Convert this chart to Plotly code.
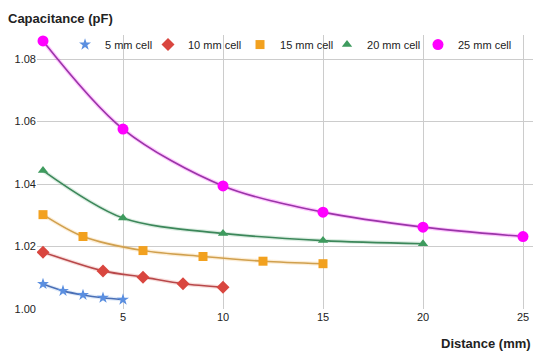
import plotly.graph_objects as go

names = ["5 mm cell", "10 mm cell", "15 mm cell", "20 mm cell", "25 mm cell"]
x5 = [1, 2, 3, 4, 5]
y5 = [1.0080, 1.0058, 1.0045, 1.0036, 1.0030]
x10 = [1, 4, 6, 8, 10]
y10 = [1.0182, 1.0122, 1.0102, 1.0081, 1.0070]
x15 = [1, 3, 6, 9, 12, 15]
y15 = [1.0302, 1.0232, 1.0187, 1.0168, 1.0153, 1.0145]
x20 = [1, 5, 10, 15, 20]
y20 = [1.0443, 1.0291, 1.0242, 1.0219, 1.0209]
x25 = [1, 5, 10, 15, 20, 25]
y25 = [1.0858, 1.0576, 1.0394, 1.0310, 1.0262, 1.0232]

xs = [x5, x10, x15, x20, x25]
ys = [y5, y10, y15, y20, y25]
marker_colors = ["#5B8FE0", "#D9463F", "#F2A11F", "#3E9B5E", "#FF00FF"]
line_colors = ["#4A6FB5", "#B8484A", "#D0A04E", "#3C875A", "#9A35A8"]
halo_colors = ["rgba(91,143,224,0.18)", "rgba(217,70,63,0.18)", "rgba(242,161,31,0.18)",
               "rgba(62,155,94,0.18)", "rgba(255,0,255,0.22)"]
symbols = ["star", "diamond", "square", "triangle-up", "circle"]
sizes = [9, 10, 9, 9, 11]
legend_x = [0.0565, 0.2238, 0.4093, 0.5847, 0.7681]
legend_ids = ["legend", "legend2", "legend3", "legend4", "legend5"]

fig = go.Figure()
for i in range(5):
    fig.add_trace(go.Scatter(x=xs[i], y=ys[i], mode="lines", showlegend=False,
                             line=dict(color=halo_colors[i], width=4, shape="spline", smoothing=0.9),
                             hoverinfo="skip"))
for i in range(5):
    fig.add_trace(go.Scatter(x=xs[i], y=ys[i], mode="lines", showlegend=False,
                             line=dict(color=line_colors[i], width=1.6, shape="spline", smoothing=0.9)))
for i in range(5):
    fig.add_trace(go.Scatter(x=xs[i], y=ys[i], mode="markers", name=names[i],
                             legend=legend_ids[i], showlegend=True,
                             marker=dict(symbol=symbols[i], size=sizes[i], color=marker_colors[i],
                                         line=dict(width=0))))

legend_layout = {}
for i in range(5):
    legend_layout[legend_ids[i]] = dict(orientation="h", x=legend_x[i], y=1.018,
                                        xanchor="left", yanchor="top",
                                        bgcolor="rgba(255,255,255,0)",
                                        font=dict(size=11, color="#222"), itemwidth=30)

fig.update_layout(
    width=547, height=356,
    margin=dict(l=37, r=14, t=35, b=47, autoexpand=False),
    paper_bgcolor="white", plot_bgcolor="white",
    font=dict(family="Arial, Liberation Sans, sans-serif", size=11, color="#222"),
    annotations=[
        dict(text="<b>Capacitance (pF)</b>", xref="paper", yref="paper", x=-0.062, y=1.0,
             xanchor="left", yanchor="bottom", yshift=7, showarrow=False,
             font=dict(size=13, color="#222")),
        dict(text="<b>Distance (mm)</b>", xref="paper", yref="paper", x=1.0, y=0,
             xanchor="right", yanchor="top", yshift=-25, showarrow=False,
             font=dict(size=13, color="#222")),
    ],
    **legend_layout,
)
fig.update_xaxes(range=[0.7, 25.5], tickvals=[5, 10, 15, 20, 25], showgrid=True,
                 gridcolor="#cccccc", zeroline=False, showline=False, automargin=False,
                 tickfont=dict(size=11, color="#222", family="Arial, Liberation Sans, sans-serif"),
                 tickprefix="<b>", ticksuffix="</b>", ticks="", ticklen=0)
fig.update_yaxes(range=[1.0, 1.0877], tickvals=[1.00, 1.02, 1.04, 1.06, 1.08],
                 tickformat=".2f", showgrid=True, gridcolor="#cccccc", zeroline=False,
                 showline=False, tickprefix="<b>", ticksuffix="</b>", automargin=False,
                 tickfont=dict(size=11, color="#222", family="Arial, Liberation Sans, sans-serif"))
fig.write_html("out.html", config={"displayModeBar": False},
               post_script="document.body.style.margin='0';document.body.style.overflow='hidden';")
